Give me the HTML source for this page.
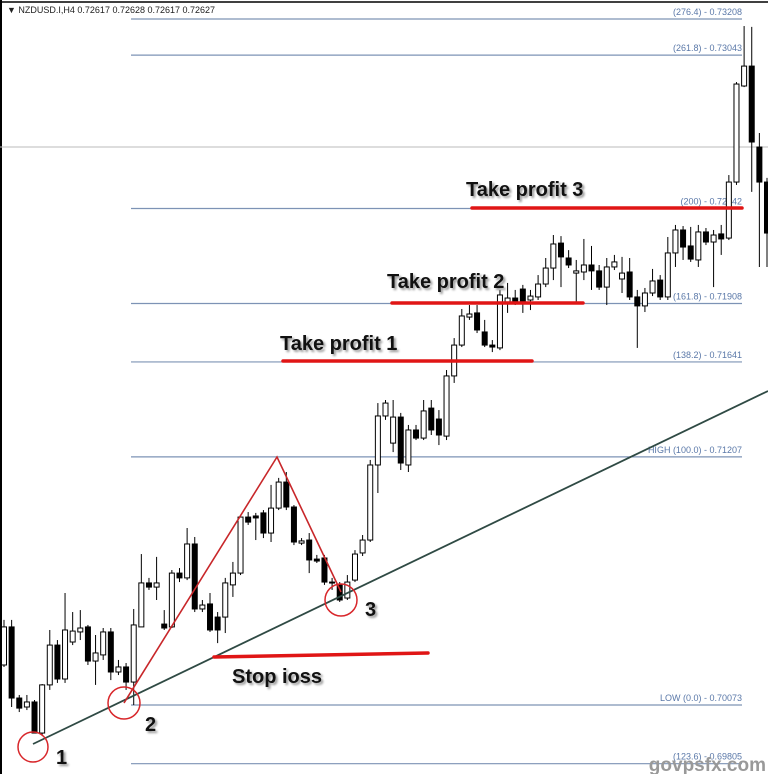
<!DOCTYPE html>
<html><head><meta charset="utf-8"><style>
html,body{margin:0;padding:0;background:#fff;}
#wrap{position:relative;width:768px;height:774px;overflow:hidden;background:#fff;font-family:"Liberation Sans",sans-serif;}
svg{position:absolute;left:0;top:0;}
.lbl{position:absolute;font-weight:bold;font-size:20px;color:#111;text-shadow:2px 2px 2px #999,-1px -1px 1px #fff;white-space:nowrap;}
</style></head><body>
<div id="wrap">
<svg id="chart" width="768" height="774"></svg>
<div class="lbl" style="left:466px;top:179px;">Take profit 3</div>
<div class="lbl" style="left:387px;top:271px;">Take profit 2</div>
<div class="lbl" style="left:280px;top:333px;">Take profit 1</div>
<div class="lbl" style="left:232px;top:666px;">Stop ioss</div>
<div class="lbl" style="left:56px;top:747px;">1</div>
<div class="lbl" style="left:145px;top:714px;">2</div>
<div class="lbl" style="left:365px;top:599px;">3</div>
</div>
<script>
const opens=[0.70256,0.70430,0.70105,0.70064,0.70087,0.69945,0.70165,0.70347,0.70192,0.70361,0.70407,0.70430,0.70274,0.70302,0.70407,0.70224,0.70247,0.70178,0.70430,0.70631,0.70612,0.70443,0.70430,0.70676,0.70654,0.70809,0.70512,0.70535,0.70475,0.70475,0.70622,0.70676,0.70932,0.70937,0.70951,0.70859,0.70973,0.71092,0.70978,0.70813,0.70827,0.70740,0.70745,0.70635,0.70622,0.70562,0.70644,0.70768,0.70827,0.71170,0.71394,0.71270,0.71389,0.71170,0.71330,0.71293,0.71430,0.71380,0.71302,0.71577,0.71718,0.71846,0.71865,0.71778,0.71718,0.71705,0.71915,0.71933,0.71974,0.71924,0.71938,0.71997,0.72070,0.72184,0.72116,0.72047,0.72052,0.72084,0.72057,0.71983,0.72075,0.72020,0.72052,0.71938,0.71897,0.71956,0.72015,0.71938,0.72139,0.72244,0.72171,0.72107,0.72235,0.72189,0.72226,0.72207,0.72463,0.72902,0.72993,0.72623,0.72463];
const highs=[0.70462,0.70462,0.70119,0.70119,0.70096,0.70169,0.70416,0.70370,0.70585,0.70498,0.70507,0.70439,0.70393,0.70425,0.70425,0.70279,0.70265,0.70512,0.70763,0.70654,0.70750,0.70507,0.70690,0.70699,0.70882,0.70841,0.70553,0.70585,0.70498,0.70654,0.70727,0.70941,0.70955,0.70951,0.70964,0.71079,0.71111,0.71138,0.70987,0.70836,0.70859,0.70759,0.70759,0.70654,0.70635,0.70667,0.70781,0.70850,0.71193,0.71453,0.71467,0.71467,0.71408,0.71353,0.71353,0.71467,0.71467,0.71421,0.71604,0.71750,0.71883,0.71901,0.71901,0.71833,0.71741,0.71970,0.72002,0.71970,0.71993,0.71970,0.72038,0.72116,0.72221,0.72216,0.72152,0.72107,0.72203,0.72171,0.72084,0.72116,0.72130,0.72121,0.72116,0.71970,0.71979,0.72066,0.72038,0.72212,0.72267,0.72262,0.72258,0.72267,0.72253,0.72244,0.72267,0.72495,0.72920,0.73176,0.73172,0.72687,0.72482];
const lows=[0.70247,0.70064,0.70041,0.70050,0.69945,0.69936,0.70142,0.70174,0.70174,0.70347,0.70370,0.70256,0.70165,0.70279,0.70187,0.70210,0.70142,0.70073,0.70430,0.70599,0.70553,0.70416,0.70425,0.70635,0.70644,0.70498,0.70498,0.70407,0.70356,0.70402,0.70567,0.70667,0.70896,0.70827,0.70836,0.70818,0.70964,0.70964,0.70804,0.70804,0.70676,0.70722,0.70622,0.70599,0.70544,0.70553,0.70635,0.70754,0.70818,0.71042,0.71376,0.71229,0.71147,0.71138,0.71284,0.71284,0.71307,0.71261,0.71284,0.71545,0.71709,0.71833,0.71773,0.71709,0.71686,0.71695,0.71865,0.71901,0.71865,0.71878,0.71924,0.71983,0.72015,0.71983,0.72070,0.71910,0.72015,0.71970,0.71970,0.71901,0.72061,0.71956,0.71924,0.71705,0.71869,0.71942,0.71924,0.71924,0.72075,0.72107,0.72098,0.72075,0.72175,0.71983,0.72130,0.72198,0.72450,0.72897,0.72418,0.72075,0.72075];
const closes=[0.70430,0.70105,0.70059,0.70087,0.69945,0.70165,0.70347,0.70192,0.70416,0.70411,0.70425,0.70274,0.70311,0.70407,0.70224,0.70247,0.70178,0.70439,0.70631,0.70612,0.70631,0.70425,0.70676,0.70654,0.70809,0.70512,0.70530,0.70416,0.70416,0.70631,0.70676,0.70932,0.70909,0.70928,0.70859,0.70973,0.71092,0.70978,0.70818,0.70823,0.70736,0.70731,0.70635,0.70631,0.70553,0.70635,0.70763,0.70827,0.71170,0.71394,0.71453,0.71389,0.71179,0.71330,0.71293,0.71417,0.71330,0.71307,0.71577,0.71718,0.71851,0.71860,0.71787,0.71718,0.71709,0.71947,0.71933,0.71915,0.71915,0.71942,0.71997,0.72070,0.72180,0.72121,0.72084,0.72057,0.72084,0.72057,0.71983,0.72075,0.72098,0.72047,0.71938,0.71897,0.71956,0.72011,0.71938,0.72139,0.72244,0.72166,0.72111,0.72235,0.72189,0.72221,0.72203,0.72463,0.72911,0.72993,0.72646,0.72463,0.72230];
const fibLevels=[0.73208,0.73043,0.72342,0.71908,0.71641,0.71207,0.70073,0.69805];
const fibLabels=["(276.4) -  0.73208","(261.8) -  0.73043","(200) -  0.72342","(161.8) -  0.71908","(138.2) -  0.71641","HIGH (100.0) -  0.71207","LOW (0.0) -  0.70073","(123.6) -  0.69805"];
const fibNames=["fib-276","fib-261","fib-200","fib-161","fib-138","fib-high","fib-low","fib-123"];

const NS="http://www.w3.org/2000/svg";
const svg=document.getElementById('chart');
const yScale=p=>(0.73295-p)/0.0000457;
const xScale=i=>4+i*7.63;
function mk(tag,attrs,parent){const e=document.createElementNS(NS,tag);for(const k in attrs)e.setAttribute(k,attrs[k]);(parent||svg).appendChild(e);return e;}

// frame
let e=mk('line',{x1:1,y1:0,x2:1,y2:774,stroke:'#000','stroke-width':2});

e=mk('line',{x1:0,y1:2,x2:768,y2:2,stroke:'#000','stroke-width':1.5});

e=mk('line',{x1:0,y1:147,x2:768,y2:147,stroke:'#bbb','stroke-width':1});

e=mk('text',{x:7,y:13,'font-size':9,fill:'#222','font-family':'Liberation Sans, sans-serif'});
e.textContent='▼ NZDUSD.I,H4  0.72617 0.72628 0.72617 0.72627';


// fib lines
fibLevels.forEach((p,i)=>{
  const y=yScale(p);
  const l=mk('line',{x1:131,y1:y,x2:742,y2:y,stroke:'#7d93b5','stroke-width':1.2});
  
  
  const t=mk('text',{x:742,y:y-4,'font-size':9,fill:'#5a78a8','text-anchor':'end','font-family':'Liberation Sans, sans-serif'});
  t.textContent=fibLabels[i];
  
  
});

// candles
opens.forEach((o,i)=>{
  const x=xScale(i),c=closes[i];
  const g=mk('g',{});
  
  
  mk('line',{x1:x,y1:yScale(highs[i]),x2:x,y2:yScale(lows[i]),stroke:'#000','stroke-width':1},g);
  const top=yScale(Math.max(o,c)),bot=yScale(Math.min(o,c));
  mk('rect',{x:x-2.5,y:top,width:5,height:Math.max(1,bot-top),fill:c>=o?'#fff':'#000',stroke:'#000','stroke-width':1},g);
});

// trendline
e=mk('line',{x1:33,y1:744,x2:768,y2:391,stroke:'#2f4a44','stroke-width':1.8});

e=mk('polyline',{points:'124,703 277,457 341,592',fill:'none',stroke:'#c8272a','stroke-width':1.6});

[[33,747,15,'circle-1'],[124,703,16,'circle-2'],[341,600,16,'circle-3']].forEach(a=>{
  const ci=mk('circle',{cx:a[0],cy:a[1],r:a[2],fill:'none',stroke:'#d8262a','stroke-width':1.5});
  
  
});
[[472,208,742,208,'take-profit-3-line'],[392,303,583,303,'take-profit-2-line'],[283,361,532,361,'take-profit-1-line'],[214,657,428,653,'stop-loss-line']].forEach(a=>{
  const l=mk('line',{x1:a[0],y1:a[1],x2:a[2],y2:a[3],stroke:'#e01515','stroke-width':3.5,'stroke-linecap':'round'});
  
  
});
e=mk('text',{x:766,y:771,'font-size':19,fill:'#999','text-anchor':'end','font-weight':'bold','font-family':'Liberation Sans, sans-serif'});
e.textContent='govpsfx.com';

</script>
</body></html>
